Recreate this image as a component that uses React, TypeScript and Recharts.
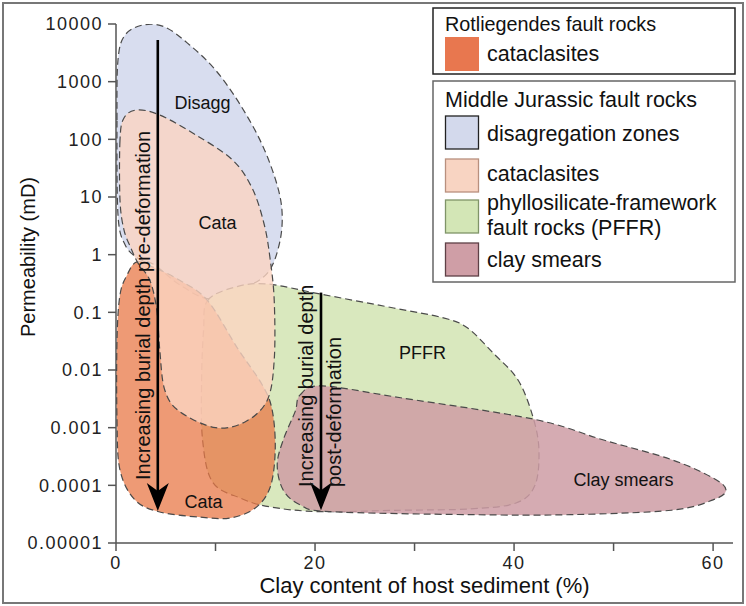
import { ComposedChart, Scatter, XAxis, YAxis } from 'recharts';

type Pt = { x: number; y: number };
type Lbl = { x: number; y: number; text: string };

// outlines of each fault-rock field: clay content (%) vs permeability (mD)
const disagg: Pt[] = [
  { x: 0.1, y: 216 }, { x: 0.2, y: 2380 }, { x: 0.9, y: 6400 }, { x: 2.7, y: 9600 },
  { x: 4.9, y: 8870 }, { x: 7.4, y: 4330 }, { x: 10.0, y: 1590 }, { x: 12.5, y: 394 },
  { x: 14.7, y: 80 }, { x: 16.2, y: 16 }, { x: 16.7, y: 4.9 }, { x: 16.4, y: 1.5 },
  { x: 15.3, y: 0.5 }, { x: 13.0, y: 0.27 }, { x: 9.5, y: 0.17 }, { x: 6.4, y: 0.3 },
  { x: 3.9, y: 0.66 }, { x: 2.2, y: 0.87 }, { x: 0.9, y: 1.5 }, { x: 0.2, y: 4.9 },
];

const cataJurassic: Pt[] = [
  { x: 0.4, y: 96 }, { x: 0.4, y: 8.9 }, { x: 0.8, y: 2.7 }, { x: 1.5, y: 1.3 },
  { x: 2.2, y: 0.72 }, { x: 3.4, y: 0.36 }, { x: 4.1, y: 0.11 }, { x: 4.4, y: 0.022 },
  { x: 4.9, y: 0.0045 }, { x: 6.4, y: 0.0019 }, { x: 10.0, y: 0.001 }, { x: 13.0, y: 0.00127 },
  { x: 15.2, y: 0.003 }, { x: 15.9, y: 0.015 }, { x: 15.9, y: 0.16 }, { x: 15.5, y: 0.81 },
  { x: 14.9, y: 3.3 }, { x: 13.7, y: 14 }, { x: 11.7, y: 44 }, { x: 8.0, y: 120 },
  { x: 4.4, y: 264 }, { x: 2.1, y: 323 }, { x: 0.8, y: 234 },
];

const cataRotliegend: Pt[] = [
  { x: 2.1, y: 0.75 }, { x: 3.9, y: 0.59 }, { x: 6.4, y: 0.36 }, { x: 9.2, y: 0.16 },
  { x: 12.2, y: 0.024 }, { x: 14.7, y: 0.0055 }, { x: 15.7, y: 0.002 }, { x: 16.0, y: 0.00041 },
  { x: 15.5, y: 0.0000935 }, { x: 14.0, y: 0.0000405 }, { x: 11.5, y: 0.0000272 }, { x: 8.5, y: 0.000028 },
  { x: 4.4, y: 0.0000345 }, { x: 1.9, y: 0.000056 }, { x: 0.4, y: 0.000185 }, { x: 0.1, y: 0.00136 },
  { x: 0.1, y: 0.033 }, { x: 0.4, y: 0.2 }, { x: 1.1, y: 0.44 },
];

const pffr: Pt[] = [
  { x: 9.2, y: 0.16 }, { x: 12.0, y: 0.275 }, { x: 15.2, y: 0.31 }, { x: 20.5, y: 0.208 },
  { x: 27.9, y: 0.119 }, { x: 32.9, y: 0.08 }, { x: 35.3, y: 0.054 }, { x: 37.9, y: 0.0197 },
  { x: 40.4, y: 0.0067 }, { x: 41.9, y: 0.00153 }, { x: 42.5, y: 0.00041 }, { x: 42.1, y: 0.0001 },
  { x: 40.2, y: 0.0000494 }, { x: 35.6, y: 0.000039 }, { x: 28.6, y: 0.000037 }, { x: 20.5, y: 0.000035 },
  { x: 15.5, y: 0.0000422 }, { x: 12.5, y: 0.00006 }, { x: 9.7, y: 0.000114 }, { x: 8.7, y: 0.00061 },
  { x: 8.6, y: 0.0067 }, { x: 8.8, y: 0.049 },
];

const claySmears: Pt[] = [
  { x: 18.5, y: 0.0037 }, { x: 20.7, y: 0.0053 }, { x: 28.6, y: 0.0033 }, { x: 42.0, y: 0.0014 },
  { x: 49.0, y: 0.00061 }, { x: 55.8, y: 0.00028 }, { x: 60.0, y: 0.000134 }, { x: 61.3, y: 0.000083 },
  { x: 60.0, y: 0.000056 }, { x: 55.8, y: 0.000037 }, { x: 45.7, y: 0.000031 }, { x: 35.6, y: 0.000031 },
  { x: 21.5, y: 0.000035 }, { x: 18.5, y: 0.000046 }, { x: 16.8, y: 0.000083 }, { x: 16.2, y: 0.000225 },
  { x: 16.8, y: 0.00061 }, { x: 18.0, y: 0.0019 },
];

const arrowPre: Pt[] = [{ x: 4.2, y: 5300 }, { x: 4.2, y: 0.000036 }];
const arrowPost: Pt[] = [{ x: 20.6, y: 0.22 }, { x: 20.6, y: 0.000037 }];

const xTicks = [0, 10, 20, 30, 40, 50, 60];
const xTickLabels = ['0', '', '20', '', '40', '', '60'];
const yTicks = [0.00001, 0.0001, 0.001, 0.01, 0.1, 1, 10, 100, 1000, 10000];
const yTickLabels = ['0.00001', '0.0001', '0.001', '0.01', '0.1', '1', '10', '100', '1000', '10000'];

const regionLabels: Lbl[] = [
  { x: 8.7, y: 427, text: 'Disagg' },
  { x: 10.2, y: 3.5, text: 'Cata' },
  { x: 8.8, y: 0.0000514, text: 'Cata' },
  { x: 30.8, y: 0.0197, text: 'PFFR' },
  { x: 51.0, y: 0.000124, text: 'Clay smears' },
];

const arrowLabels: Lbl[] = [
  { x: 3.4, y: 0.000124, text: 'Increasing burial depth pre-deformation' },
  { x: 19.8, y: 0.0000935, text: 'Increasing burial depth' },
  { x: 22.6, y: 0.0000935, text: 'post-deformation' },
];

const rotLegend = [{ label: 'cataclasites', color: '#E8774F' }];
const jurassicLegend = [
  { label: ['disagregation zones'], color: '#D3D9EC', border: '#222' },
  { label: ['cataclasites'], color: '#F8D4C2', border: '#B8907E' },
  { label: ['phyllosilicate-framework', 'fault rocks (PFFR)'], color: '#D3E6B6', border: '#7F9468' },
  { label: ['clay smears'], color: '#CF9EA6', border: '#5E4046' },
];

const FONT = '"Liberation Sans", Arial, Helvetica, sans-serif';

function closedSpline(pts: { x: number; y: number }[]) {
  const n = pts.length;
  let d = `M${pts[0].x},${pts[0].y}`;
  for (let i = 0; i < n; i++) {
    const p0 = pts[(i - 1 + n) % n];
    const p1 = pts[i];
    const p2 = pts[(i + 1) % n];
    const p3 = pts[(i + 2) % n];
    const c1x = p1.x + (p2.x - p0.x) / 6;
    const c1y = p1.y + (p2.y - p0.y) / 6;
    const c2x = p2.x - (p3.x - p1.x) / 6;
    const c2y = p2.y - (p3.y - p1.y) / 6;
    d += ` C${c1x},${c1y} ${c2x},${c2y} ${p2.x},${p2.y}`;
  }
  return d + 'Z';
}

const blob = (fill: string, opacity: number) => (props: any) => (
  <path
    d={closedSpline(props.points)}
    fill={fill}
    fillOpacity={opacity}
    stroke="#4a4a4a"
    strokeWidth={1.2}
    strokeDasharray="7 4"
  />
);

const arrow = (props: any) => {
  const [a, b] = props.points;
  return (
    <g>
      <line x1={a.x} y1={a.y} x2={b.x} y2={b.y - 18} stroke="#000" strokeWidth={2.6} />
      <polygon points={`${b.x},${b.y} ${b.x - 11},${b.y - 28} ${b.x},${b.y - 20} ${b.x + 11},${b.y - 28}`} fill="#000" />
    </g>
  );
};

const noDot = () => <g />;

const regionText = (p: any) => (
  <text x={p.cx} y={p.cy} textAnchor="middle" dominantBaseline="central" fontSize={18} fontFamily={FONT} fill="#111">
    {p.payload.text}
  </text>
);

const sideText = (p: any) => (
  <text
    x={p.cx}
    y={p.cy}
    transform={`rotate(-90 ${p.cx} ${p.cy})`}
    textAnchor="start"
    fontSize={20}
    fontFamily={FONT}
    fill="#111"
  >
    {p.payload.text}
  </text>
);

const axisStroke = { stroke: '#555', strokeWidth: 1.5 };
const tickStyle = { fontSize: 18, fontFamily: FONT, fill: '#222', letterSpacing: 1.5 };

function Legend() {
  return (
    <svg width={746} height={606} style={{ position: 'absolute', left: 0, top: 0, pointerEvents: 'none' }}>
      <g fontFamily={FONT} fontSize={21.5} fill="#111">
        <rect x={433} y={8} width={302} height={66} fill="#fff" stroke="#222" strokeWidth={1.5} />
        <text x={445} y={31} fontSize={19.8}>Rotliegendes fault rocks</text>
        {rotLegend.map((d) => (
          <g key={d.label}>
            <rect x={445} y={37} width={34} height={34} fill={d.color} />
            <text x={487} y={61}>{d.label}</text>
          </g>
        ))}
        <rect x={433} y={81} width={302} height={201} fill="#fff" stroke="#666" strokeWidth={1.5} />
        <text x={445} y={107}>Middle Jurassic fault rocks</text>
        {jurassicLegend.map((d, i) => {
          const top = [116, 159, 200, 243][i];
          const base = [141, 181, 210, 267][i];
          return (
            <g key={d.label[0] + i}>
              <rect x={445.5} y={top} width={33} height={33} fill={d.color} stroke={d.border} strokeWidth={1.3} />
              {d.label.map((l, j) => (
                <text key={l} x={487} y={base + j * 24.5}>{l}</text>
              ))}
            </g>
          );
        })}
      </g>
    </svg>
  );
}

export default function App() {
  return (
    <div style={{ position: 'absolute', left: 0, top: 0, width: 746, height: 606, background: '#fff' }}>
      <ComposedChart width={746} height={606} margin={{ top: 24, right: 13, bottom: 0, left: 0 }}>
        <XAxis
          type="number"
          dataKey="x"
          domain={[0, 62]}
          ticks={xTicks}
          interval={0}
          tickFormatter={(_v: number, i: number) => xTickLabels[i]}
          height={63}
          tickSize={8}
          tickMargin={5}
          axisLine={axisStroke}
          tickLine={axisStroke}
          tick={tickStyle}
          label={{
            content: (p: any) => (
              <text
                x={p.viewBox.x + p.viewBox.width / 2}
                y={593}
                textAnchor="middle"
                fontSize={22}
                fontFamily={FONT}
                fill="#111"
              >
                Clay content of host sediment (%)
              </text>
            ),
          }}
        />
        <YAxis
          type="number"
          dataKey="y"
          scale="log"
          domain={[0.00001, 10000]}
          allowDataOverflow
          ticks={yTicks}
          interval={0}
          tickFormatter={(_v: number, i: number) => yTickLabels[i]}
          width={116}
          tickSize={8}
          tickMargin={5}
          axisLine={axisStroke}
          tickLine={axisStroke}
          tick={tickStyle}
          label={{
            content: (p: any) => {
              const cy = p.viewBox.y + 233;
              return (
                <text
                  x={35}
                  y={cy}
                  transform={`rotate(-90 35 ${cy})`}
                  textAnchor="middle"
                  fontSize={20}
                  fontFamily={FONT}
                  fill="#111"
                >
                  Permeability (mD)
                </text>
              );
            },
          }}
        />
        <Scatter data={disagg} shape={noDot} line={blob('#D8DDEF', 1)} lineType="joint" isAnimationActive={false} />
        <Scatter data={pffr} shape={noDot} line={blob('#D9E8BE', 1)} lineType="joint" isAnimationActive={false} />
        <Scatter data={cataRotliegend} shape={noDot} line={blob('#E87847', 0.75)} lineType="joint" isAnimationActive={false} />
        <Scatter data={cataJurassic} shape={noDot} line={blob('#FBD4C2', 0.8)} lineType="joint" isAnimationActive={false} />
        <Scatter data={claySmears} shape={noDot} line={blob('#CE9CA4', 0.85)} lineType="joint" isAnimationActive={false} />
        <Scatter data={arrowPre} shape={noDot} line={arrow} lineType="joint" isAnimationActive={false} />
        <Scatter data={arrowPost} shape={noDot} line={arrow} lineType="joint" isAnimationActive={false} />
        <Scatter data={regionLabels} shape={regionText} isAnimationActive={false} />
        <Scatter data={arrowLabels} shape={sideText} isAnimationActive={false} />
      </ComposedChart>
      <Legend />
      <div
        style={{
          position: 'absolute', left: 2, top: 2, width: 738, height: 598,
          border: '2px solid #777', pointerEvents: 'none',
        }}
      />
    </div>
  );
}
